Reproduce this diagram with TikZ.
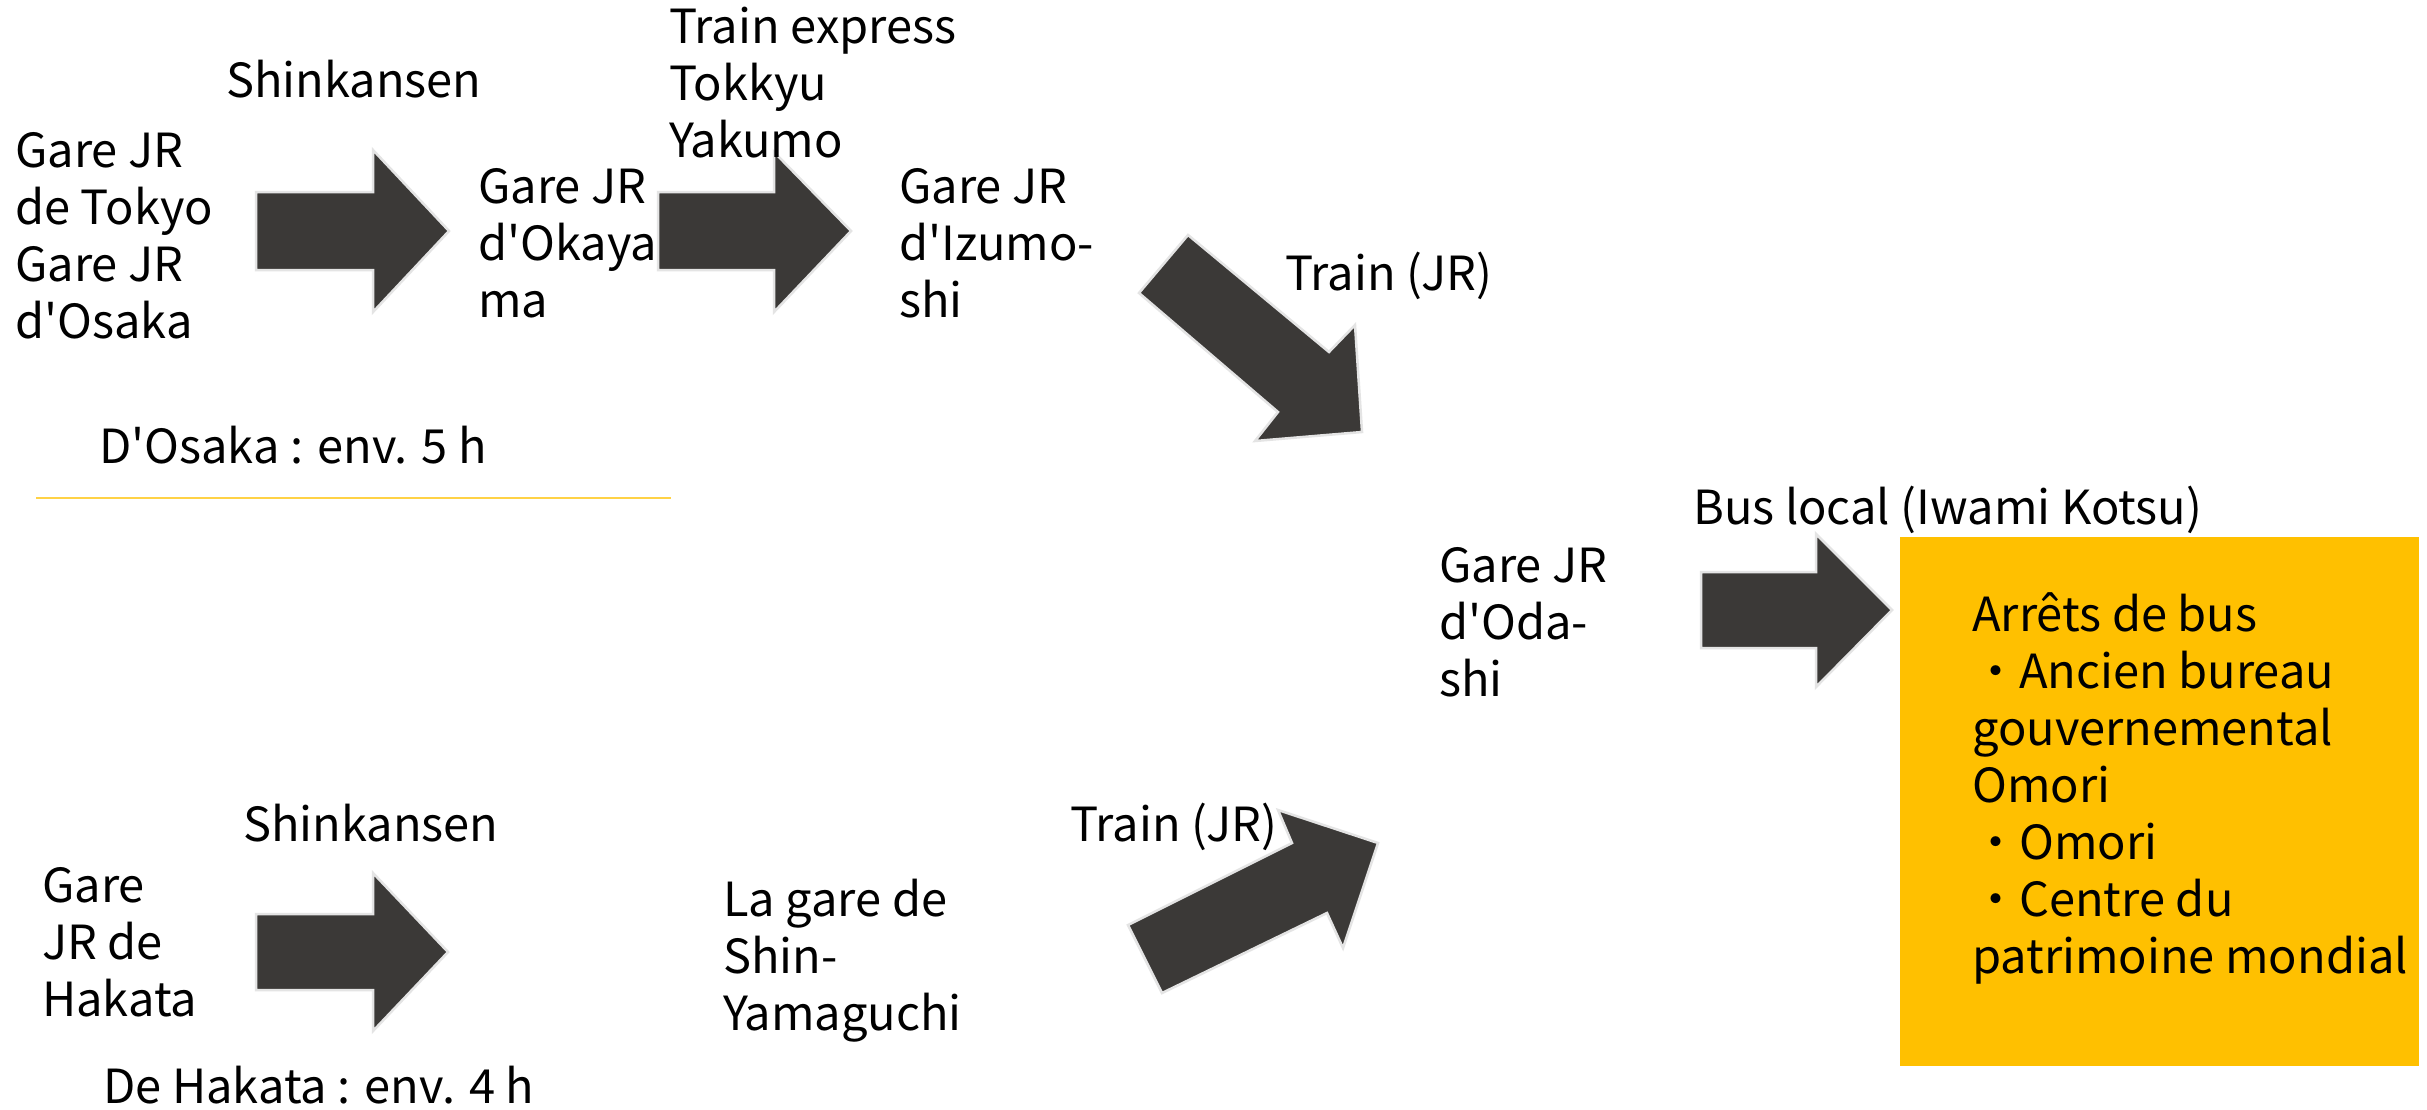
\documentclass[tikz,border=0pt]{standalone}
\usepackage{fontspec}
\setmainfont{Noto Sans CJK JP}
\definecolor{arrowfill}{RGB}{59,57,55}
\definecolor{arrowedge}{RGB}{228,228,228}
\definecolor{boxyellow}{RGB}{255,192,0}
\definecolor{lineyellow}{RGB}{255,210,70}
\newcommand{\aq}{\textquotesingle}
\tikzset{
  lbl/.style={anchor=base west, inner sep=0pt, align=left, font=\fontsize{47}{57}\selectfont},
  blockarrow/.style={fill=arrowfill, draw=arrowedge, line width=2.5pt, line join=miter},
}
\begin{document}
\begin{tikzpicture}[x=1pt,y=-1pt]
\useasboundingbox (0,0) rectangle (2427,1109);
\fill[white] (0,0) rectangle (2427,1109);

% yellow destination box
\node[fill=boxyellow, inner sep=0pt, minimum width=519pt, minimum height=529pt, anchor=north west] (dest) at (1900,537) {};

% block arrows
\draw[blockarrow] (256,192) -- (373,192) -- (373,150) -- (449,231) -- (373,312) -- (373,270) -- (256,270) -- cycle;
\draw[blockarrow] (658,192) -- (774,192) -- (774,152) -- (851,231) -- (774,312) -- (774,270) -- (658,270) -- cycle;
\draw[blockarrow] (256,914) -- (373,914) -- (373,873) -- (448,952) -- (373,1031) -- (373,990) -- (256,990) -- cycle;
\draw[blockarrow] (1701,572) -- (1816,572) -- (1816,534) -- (1892,610) -- (1816,687) -- (1816,648) -- (1701,648) -- cycle;
\draw[blockarrow] (1188,235) -- (1329,352) -- (1355,325) -- (1362,432) -- (1255,441) -- (1278,412) -- (1139,293) -- cycle;
\draw[blockarrow] (1128,925) -- (1292,843) -- (1278,810) -- (1378,843) -- (1343,948) -- (1327,913) -- (1162,993) -- cycle;

% separator line
\coordinate (sepA) at (36,498);
\coordinate (sepB) at (671,498);
\draw[lineyellow, line width=2.5pt] (sepA) -- (sepB);

% texts (base anchor = baseline of the last line)
\node[lbl] (tokyo) at (15,338) {Gare JR\\de Tokyo\\Gare JR\\d\aq Osaka};
\node[lbl] (shin1) at (226,97) {Shinkansen};
\node[lbl] (okayama) at (478,317) {Gare JR\\d\aq Okaya\\ma};
\node[lbl] (yakumo) at (669,157) {Train express\\Tokkyu\\Yakumo};
\node[lbl] (izumo) at (899,317) {Gare JR\\d\aq Izumo-\\shi};
\node[lbl] (train1) at (1285,290) {Train (JR)};
\node[lbl] (osaka) at (99,463) {D\aq Osaka : env. 5 h};
\node[lbl] (bus) at (1693,524) {Bus local (Iwami Kotsu)};
\node[lbl] (oda) at (1439,696) {Gare JR\\d\aq Oda-\\shi};
\node[lbl] (stops) at (1972,973) {Arrêts de bus\\・Ancien bureau\\gouvernemental\\Omori\\・Omori\\・Centre du\\patrimoine mondial};
\node[lbl] (shin2) at (243,841) {Shinkansen};
\node[lbl] (hakata) at (42,1016) {Gare\\JR de\\Hakata};
\node[lbl] (yamaguchi) at (723,1030) {La gare de\\Shin-\\Yamaguchi};
\node[lbl] (train2) at (1070,841) {Train (JR)};
\node[lbl] (hakatatime) at (103,1103) {De Hakata : env. 4 h};
\end{tikzpicture}
\end{document}
